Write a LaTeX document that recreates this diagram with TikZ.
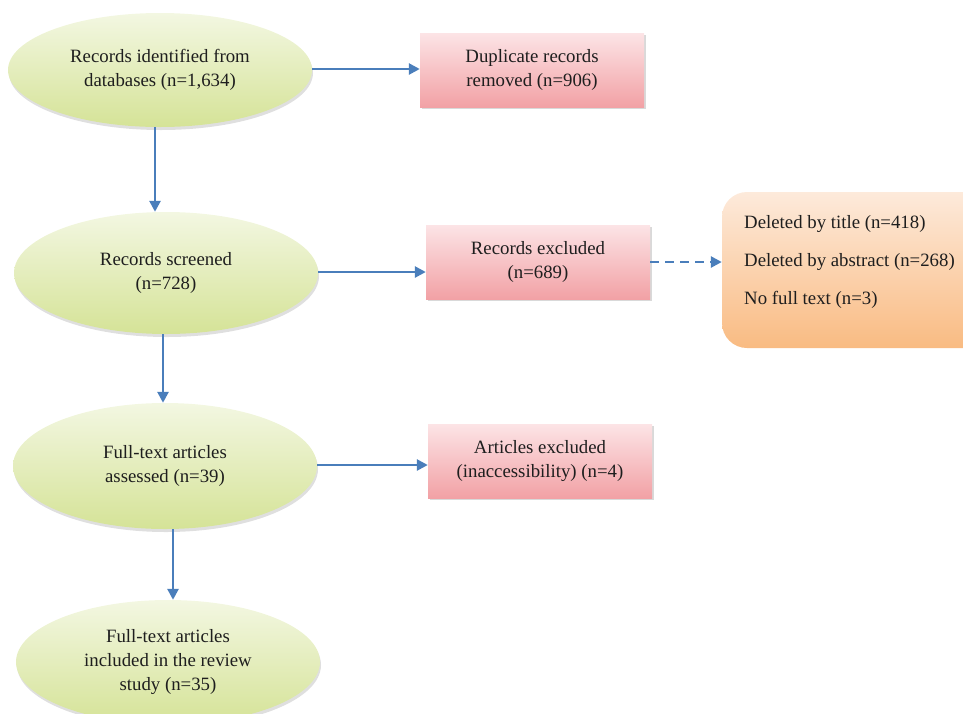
\documentclass[tikz,border=0pt]{standalone}
\usepackage{fontspec}
\setmainfont{Liberation Serif}
\usetikzlibrary{shapes.geometric,shadows,arrows.meta}
\definecolor{arrblue}{HTML}{4A7EBB}
\definecolor{elltop}{HTML}{F3F7E2}
\definecolor{ellbot}{HTML}{D5E397}
\definecolor{pinktop}{HTML}{FCE4E6}
\definecolor{pinkbot}{HTML}{F2A1A5}
\definecolor{ortop}{HTML}{FDEADB}
\definecolor{orbot}{HTML}{F9BB82}
\definecolor{txt}{HTML}{1E1E1E}
\tikzset{
  ell/.style={ellipse, minimum width=304pt, minimum height=116pt, inner sep=0pt,
    top color=elltop, bottom color=ellbot, align=center, text=txt,
    font=\fontsize{18.8}{24}\selectfont,
    drop shadow={opacity=0.25, shadow xshift=1pt, shadow yshift=-3pt}},
  pbox/.style={rectangle, minimum width=224pt, minimum height=74pt, inner sep=0pt,
    top color=pinktop, bottom color=pinkbot, align=center, text=txt,
    font=\fontsize{18.8}{24}\selectfont,
    drop shadow={opacity=0.3, shadow xshift=2pt, shadow yshift=-2pt}},
  obox/.style={rectangle, rounded corners=25pt, minimum width=270pt, minimum height=156pt,
    inner sep=0pt, top color=ortop, bottom color=orbot, text=txt},
  otext/.style={anchor=west, inner sep=0pt, text=txt, font=\fontsize{18.8}{24}\selectfont},
  arr/.style={draw=arrblue, line width=2.6pt, -{Triangle[length=11pt,width=11pt]}},
}
\begin{document}
\begin{tikzpicture}[x=1pt,y=-1pt]
\useasboundingbox (0,0) rectangle (963,713);
\node[ell, minimum height=114pt] (e1) at (160,70) {Records identified from\\databases (n=1,634)};
\node[ell, minimum height=122pt] (e2) at (166,273) {Records screened\\(n=728)};
\node[ell, minimum height=126pt] (e3) at (165,466) {Full-text articles\\assessed (n=39)};
\node[ell, minimum height=124pt] (e4) at (168,662) {Full-text articles\\included in the review\\study (n=35)};
\node[pbox] (d1) at (532,70) {Duplicate records\\removed (n=906)};
\node[pbox] (d2) at (538,262) {Records excluded\\(n=689)};
\node[pbox] (d3) at (540,461) {Articles excluded\\(inaccessibility) (n=4)};
\node[obox] (o) at (857,270) {};
\node[otext] (o1) at (744,224) {Deleted by title (n=418)};
\node[otext] (o2) at (744,262) {Deleted by abstract (n=268)};
\node[otext] (o3) at (744,300) {No full text (n=3)};
% connectors
\draw[arr] ([yshift=1pt]e1.east) -- ([yshift=1pt]e1.east -| d1.west);
\draw[arr] ([yshift=1pt]e2.east) -- ([yshift=1pt]e2.east -| d2.west);
\draw[arr] ([yshift=1pt]e3.east) -- ([yshift=1pt]e3.east -| d3.west);
\draw[arr, dashed, dash pattern=on 9pt off 6pt] (d2.east) -- (d2.east -| o.west);
\draw[arr] ([xshift=-5pt]e1.south) -- ([xshift=-5pt]e1.south |- e2.north);
\draw[arr] ([xshift=-3pt]e2.south) -- ([xshift=-3pt]e2.south |- e3.north);
\draw[arr] ([xshift=8pt]e3.south) -- ([xshift=8pt]e3.south |- e4.north);
\end{tikzpicture}
\end{document}
